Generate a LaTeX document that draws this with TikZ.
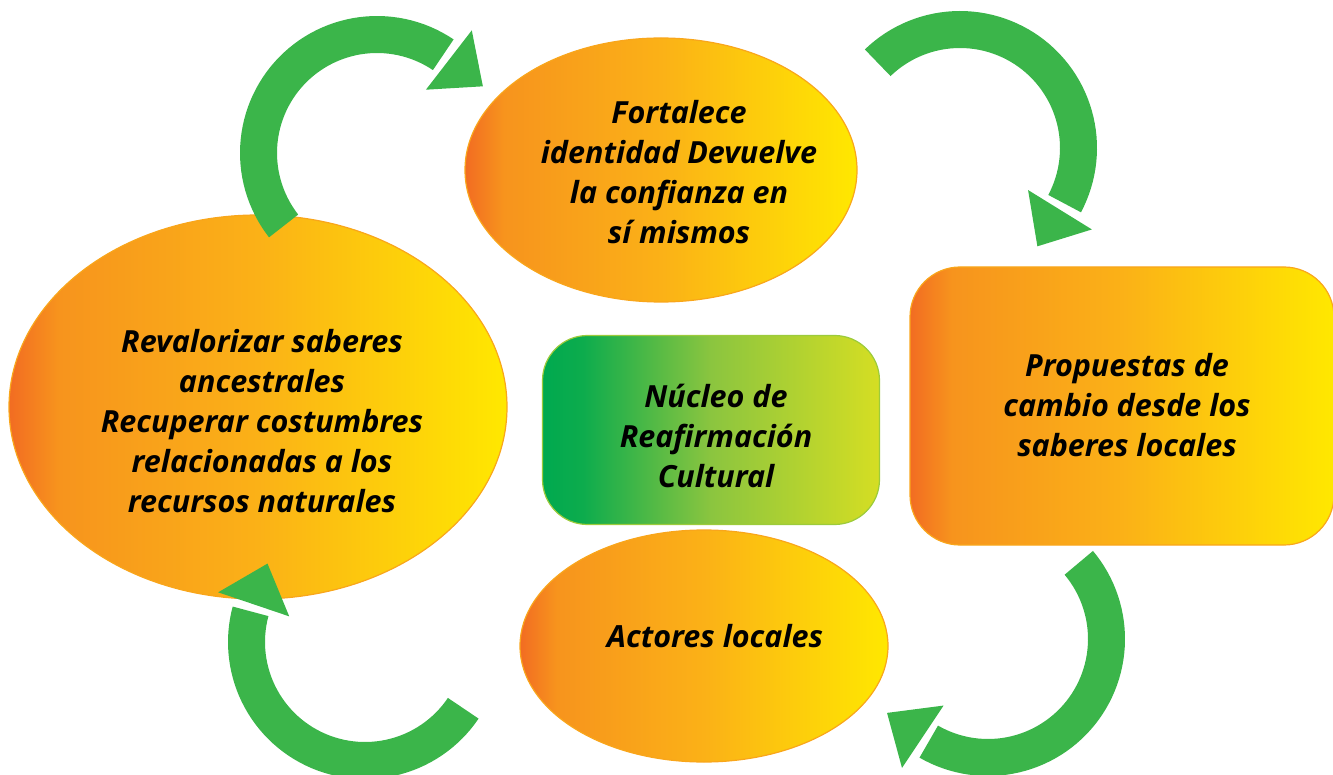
\documentclass[tikz,border=0pt]{standalone}
\usepackage{fontspec}
\setmainfont{Open Sans}
\usetikzlibrary{shapes.geometric,calc}
\definecolor{arrowgreen}{HTML}{3BB54A}
\definecolor{og0}{HTML}{F26C22}
\definecolor{og1}{HTML}{F7941D}
\definecolor{og2}{HTML}{FBB117}
\definecolor{og3}{HTML}{FFE800}
\definecolor{gg0}{HTML}{00A94F}
\definecolor{gg1}{HTML}{0DAC4D}
\definecolor{gg2}{HTML}{8BC53F}
\definecolor{gg3}{HTML}{D5DE23}
\definecolor{edgeorange}{HTML}{F9A61B}
\definecolor{edgegreen}{HTML}{9CCB3B}
\pgfdeclarehorizontalshading{orangegrad}{100bp}{color(0bp)=(og0); color(25bp)=(og0); color(30bp)=(og1); color(50bp)=(og2); color(75bp)=(og3); color(100bp)=(og3)}
\pgfdeclarehorizontalshading{greengrad}{100bp}{color(0bp)=(gg0); color(25bp)=(gg0); color(31bp)=(gg1); color(50bp)=(gg2); color(75bp)=(gg3); color(100bp)=(gg3)}
\newcommand{\cycarrow}[3]{%
  \begin{scope}[shift={(#1)}]
    \fill[arrowgreen] plot[domain=#2:#3,samples=60] ({137*cos(\x)},{137*sin(\x)})
      -- plot[domain=#3:#2,samples=60] ({100*cos(\x)},{100*sin(\x)}) -- cycle;
    \pgfmathsetmacro{\hdang}{#3+3.7}
    \pgfmathsetmacro{\hnang}{#3+93.7}
    \fill[arrowgreen] (\hdang:80) -- (\hdang:155) -- ($(\hdang:117.5)+(\hnang:43)$) -- cycle;
  \end{scope}}
\begin{document}
\begin{tikzpicture}[x=1pt,y=-1pt,
  blob/.style={ellipse, draw=edgeorange, line width=1.2pt, shading=orangegrad, inner sep=0pt},
  orangebox/.style={rectangle, rounded corners=50pt, draw=edgeorange, line width=1.2pt, shading=orangegrad, inner sep=0pt},
  greenbox/.style={rectangle, rounded corners=45pt, draw=edgegreen, line width=1.2pt, shading=greengrad, inner sep=0pt},
  txt/.style={align=center, font=\fontsize{30.5}{40}\selectfont\bfseries\itshape, inner sep=0pt}]
\path[use as bounding box] (0,0) rectangle (1333,775);
% shapes
\node[blob, minimum width=498pt, minimum height=384pt] (left) at (258,407) {};
\node[blob, minimum width=392pt, minimum height=264pt] (top) at (661,170) {};
\node[blob, minimum width=368pt, minimum height=232pt] (bottom) at (704,646) {};
\node[orangebox, minimum width=424pt, minimum height=278pt] (right) at (1122,406) {};
\node[greenbox, minimum width=337pt, minimum height=189pt] (core) at (711,430) {};
% texts
\node[txt] (toptext) at (679,172) {Fortalece\\identidad Devuelve\\la confianza en\\sí mismos};
\node[txt] (lefttext) at (262,421) {Revalorizar saberes\\ancestrales\\Recuperar costumbres\\relacionadas a los\\recursos naturales};
\node[txt] (coretext) at (716,436) {Núcleo de\\Reafirmación\\Cultural};
\node[txt] (righttext) at (1127,405) {Propuestas de\\cambio desde los\\saberes locales};
\node[txt] (bottomtext) at (715,636) {Actores locales};
% cycle arrows
\coordinate (a1) at (377,153);
\coordinate (a2) at (960,148);
\coordinate (a3) at (988,639);
\coordinate (a4) at (365,642);
\cycarrow{a1}{142}{304}
\cycarrow{a2}{226}{388}
\cycarrow{a3}{320}{480}
\cycarrow{a4}{34}{195}
\end{tikzpicture}
\end{document}
